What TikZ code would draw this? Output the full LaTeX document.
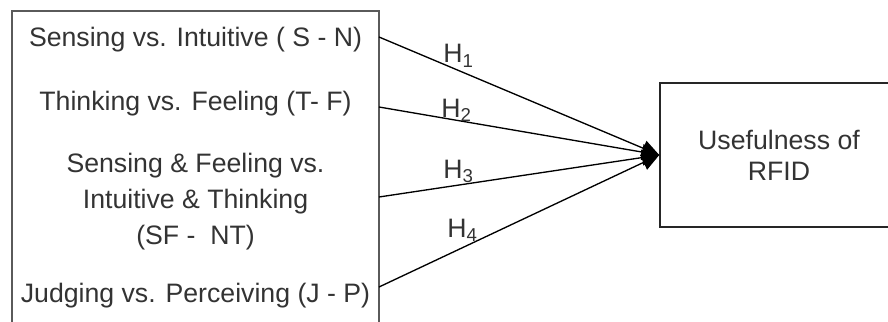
\documentclass[tikz,border=0pt]{standalone}
\usepackage{fontspec}
\setmainfont{Liberation Sans}
\usepackage{xcolor}
\usetikzlibrary{arrows.meta}
\definecolor{txtgray}{HTML}{333333}
\definecolor{boxgray}{HTML}{5A5A5A}

\begin{document}
\begin{tikzpicture}[x=0.75pt, y=-0.75pt,
    >={Triangle[length=13pt,width=12pt]},
    every node/.style={font=\fontsize{20pt}{27pt}\selectfont, text=txtgray},
    hlabel/.style={anchor=base west, inner sep=0pt}]
  \useasboundingbox (0,0) rectangle (888,321);
  \clip (0,0) rectangle (888,321);

  % Kasten links (unten abgeschnitten)
  \node[draw=boxgray, line width=1.6pt, minimum width=275.25pt,
        minimum height=300pt, inner sep=0pt] (traits) at (195.5,211) {};

  % Merkmale
  \node[anchor=base] (sn) at (195.5,47) {Sensing vs. Intuitive ( S - N)};
  \node[anchor=base] (tf) at (195.5,110) {Thinking vs. Feeling (T- F)};
  \node[align=center] (sfnt) at (195.5,202)
    {Sensing \& Feeling vs.\\Intuitive \& Thinking\\(SF -\ \ NT)};
  \node[anchor=base] (jp) at (195.5,302) {Judging vs. Perceiving (J - P)};

  % Kasten rechts
  \node[draw=black!85, line width=1.1pt, minimum width=178.5pt,
        minimum height=108pt, align=center,
        font=\fontsize{20pt}{23.3pt}\selectfont] (use) at (779,155)
    {Usefulness of\\RFID};

  % Startpunkte der Pfeile
  \coordinate (s1) at (379,37);
  \coordinate (s2) at (379,107);
  \coordinate (s3) at (379,197);
  \coordinate (s4) at (379,287);

  % Hypothesen
  \foreach \i in {1,...,4}
    \draw[->, line width=1pt] (s\i) -- (use.west);

  \node[hlabel] (h1) at (443,63) {H\textsubscript{1}};
  \node[hlabel] (h2) at (441,117) {H\textsubscript{2}};
  \node[hlabel] (h3) at (443,178) {H\textsubscript{3}};
  \node[hlabel] (h4) at (447,237) {H\textsubscript{4}};
\end{tikzpicture}
\end{document}
